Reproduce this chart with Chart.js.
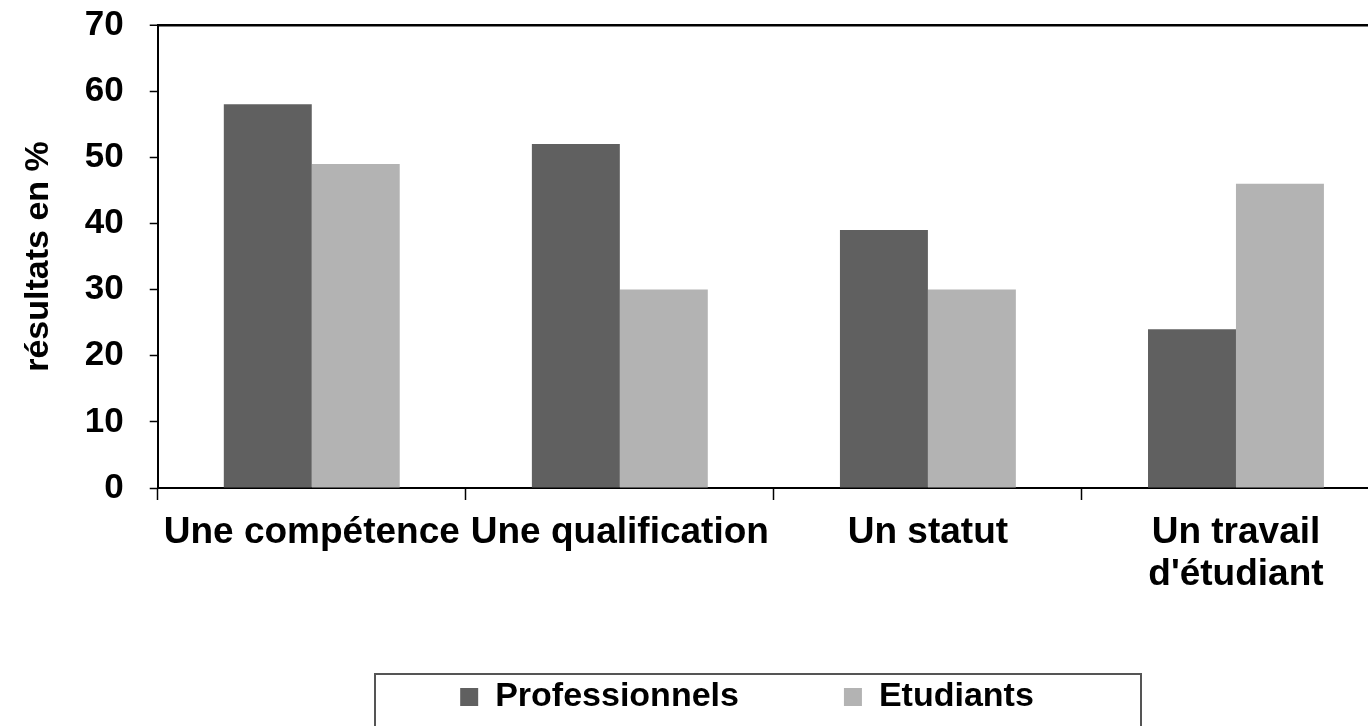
<!DOCTYPE html>
<html lang="fr">
<head>
<meta charset="utf-8">
<title>Résultats en %</title>
<script src="https://cdn.jsdelivr.net/npm/chart.js@4"></script>
<style>
  html, body { margin: 0; padding: 0; background: #fff; overflow: hidden; }
  #wrap { width: 1368px; height: 726px; overflow: hidden; }
</style>
</head>
<body>
<div id="wrap"><canvas id="chart" width="1400" height="740"></canvas></div>
<script>
const categories = ['Une compétence', 'Une qualification', 'Un statut', ['Un travail', "d'étudiant"]];
const professionnels = [58, 52, 39, 24];
const etudiants = [49, 30, 30, 46];
const yTicks = [0, 10, 20, 30, 40, 50, 60, 70];

const FONT = '"Liberation Sans", Arial, sans-serif';
const LEGEND_BOX = { left: 375, right: 1141, top: 674 };
const LEGEND_PADDING = 105;

// move the legend items into the framed box and draw the frame
const legendFrame = {
  id: 'legendFrame',
  afterLayout(chart) {
    const lg = chart.legend;
    if (!lg) {
      return;
    }
    lg.left = 353;
    lg.right = LEGEND_BOX.right;
    lg.width = lg.right - lg.left;
    lg.top = LEGEND_BOX.top + 23 - LEGEND_PADDING - 17;
  },
  afterDraw(chart) {
    const ctx = chart.ctx;
    ctx.save();
    ctx.strokeStyle = '#555';
    ctx.lineWidth = 2;
    ctx.strokeRect(LEGEND_BOX.left, LEGEND_BOX.top, LEGEND_BOX.right - LEGEND_BOX.left, 200);
    ctx.restore();
  }
};

new Chart(document.getElementById('chart').getContext('2d'), {
  type: 'bar',
  data: {
    labels: categories,
    datasets: [
      {
        label: 'Professionnels',
        data: professionnels,
        backgroundColor: '#606060',
        borderWidth: 0
      },
      {
        label: 'Etudiants',
        data: etudiants,
        backgroundColor: '#b3b3b3',
        borderWidth: 0
      }
    ]
  },
  options: {
    responsive: false,
    animation: false,
    devicePixelRatio: 1,
    datasets: {
      bar: { categoryPercentage: 0.571, barPercentage: 1 }
    },
    layout: {
      padding: { top: 3, right: 10, left: 0, bottom: 4 }
    },
    plugins: {
      title: { display: false },
      tooltip: { enabled: false },
      legend: {
        position: 'bottom',
        maxHeight: 128,
        labels: {
          color: '#000',
          boxWidth: 18,
          boxHeight: 18,
          padding: LEGEND_PADDING,
          font: { family: FONT, size: 34, weight: 'bold' }
        }
      }
    },
    scales: {
      x: {
        grid: {
          offset: true,
          drawOnChartArea: false,
          drawTicks: true,
          tickLength: 12,
          tickColor: '#000',
          tickWidth: 1.5
        },
        border: { color: '#000', width: 2 },
        ticks: {
          color: '#000',
          padding: 12,
          maxRotation: 0,
          minRotation: 0,
          autoSkip: false,
          font: { family: FONT, size: 37, weight: 'bold', lineHeight: 1.135 }
        }
      },
      y: {
        min: yTicks[0],
        max: yTicks[yTicks.length - 1],
        afterBuildTicks(scale) {
          scale.ticks = yTicks.map(v => ({ value: v }));
        },
        // room above the top tick, like the cut-off title space
        afterFit(scale) {
          scale.paddingTop = 25;
        },
        grid: {
          drawOnChartArea: true,
          color: ctx => (ctx.tick && ctx.tick.value === 70 ? '#000' : 'rgba(0,0,0,0)'),
          lineWidth: ctx => (ctx.tick && ctx.tick.value === 70 ? 2.5 : 1),
          drawTicks: true,
          tickLength: 8,
          tickColor: '#000',
          tickWidth: 1.5
        },
        border: { color: '#000', width: 2 },
        ticks: {
          color: '#000',
          padding: 26,
          font: { family: FONT, size: 35, weight: 'bold' }
        },
        title: {
          display: true,
          text: 'résultats en %',
          color: '#000',
          padding: { top: 18, bottom: 0 },
          font: { family: FONT, size: 34, weight: 'bold', lineHeight: 1.2 }
        }
      }
    }
  },
  plugins: [legendFrame]
});
</script>
</body>
</html>
